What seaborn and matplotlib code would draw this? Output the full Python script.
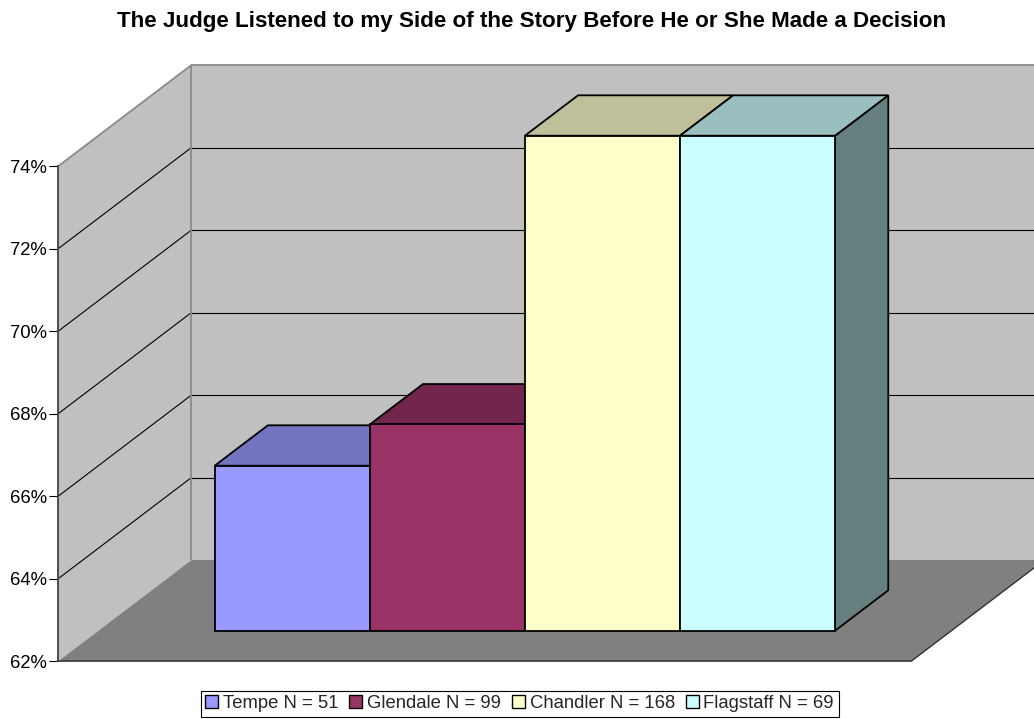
import numpy as np
import pandas as pd
import matplotlib
matplotlib.use("Agg")
import matplotlib.pyplot as plt
from matplotlib.patches import Polygon, Patch
import matplotlib.colors as mcolors
import seaborn as sns

# ---------------- data ----------------
title = "The Judge Listened to my Side of the Story Before He or She Made a Decision"
cities = ["Tempe", "Glendale", "Chandler", "Flagstaff"]
sample_sizes = [51, 99, 168, 69]
values = [66.0, 67.0, 74.0, 74.0]          # percent
colors = ["#9999FF", "#993366", "#FFFFCC", "#CCFFFF"]
y_ticks = [62, 64, 66, 68, 70, 72, 74]

BASE = y_ticks[0]
TOP = y_ticks[-1]

# ---------------- style ----------------
sns.set_theme(style="white")
plt.rcParams["font.family"] = ["Liberation Sans", "DejaVu Sans"]

fig = plt.figure(figsize=(10.34, 7.19), dpi=100)
ax = fig.add_axes([0, 0, 1, 1])

# oblique 3-D geometry (Excel style)
GAP = 0.75                 # half of the 150 % gap width, in bar widths
DX, DY = 0.8576, 2.4485    # full depth offset (x in bar widths, y in % points)
D_FRONT, D_BACK = 0.3, 0.7 # bars occupy the middle of the depth

def P(u, v, d):
    """front-plane position u (bar widths), value v (%), depth d (0..1) -> data coords"""
    return (u - GAP - 0.5 + (d - D_FRONT) * DX, v - BASE + (d - D_FRONT) * DY)

n = len(cities)
U_END = n + 2 * GAP

def shade(c, f):
    r, g, b = mcolors.to_rgb(c)
    return (r * f, g * f, b * f)

wall_c, floor_c, gray_edge = "#C0C0C0", "#808080", "#8A8A8A"

# walls and floor
ax.add_patch(Polygon([P(0, BASE, 1), P(U_END, BASE, 1), P(U_END, TOP, 1), P(0, TOP, 1)],
                     closed=True, fc=wall_c, ec="none", zorder=1))
ax.add_patch(Polygon([P(0, BASE, 0), P(0, BASE, 1), P(0, TOP, 1), P(0, TOP, 0)],
                     closed=True, fc=wall_c, ec="none", zorder=1))
ax.add_patch(Polygon([P(0, BASE, 0), P(U_END, BASE, 0), P(U_END, BASE, 1), P(0, BASE, 1)],
                     closed=True, fc=floor_c, ec="none", zorder=1))

def seg(a, b, **kw):
    ax.plot([a[0], b[0]], [a[1], b[1]], solid_capstyle="butt", **kw)

seg(P(0, BASE, 1), P(0, TOP, 1), color=gray_edge, lw=1.3, zorder=1.6)
seg(P(0, TOP, 1), P(U_END, TOP, 1), color=gray_edge, lw=1.3, zorder=1.6)
seg(P(0, TOP, 0), P(0, TOP, 1), color=gray_edge, lw=1.3, zorder=1.6)
seg(P(U_END, BASE, 0), P(U_END, BASE, 1), color="#303030", lw=1.0, zorder=1.6)

# gridlines
for v in y_ticks[1:-1]:
    seg(P(0, v, 0), P(0, v, 1), color="black", lw=0.8, zorder=1.5)
    seg(P(0, v, 1), P(U_END, v, 1), color="black", lw=0.8, zorder=1.5)

# ---------------- bars ----------------
labels = [f"{c} N = {s}" for c, s in zip(cities, sample_sizes)]
df = pd.DataFrame({"label": labels, "rel": np.array(values) - BASE})
sns.barplot(data=df, x="label", y="rel", hue="label", palette=colors, saturation=1,
            width=1.0, dodge=False, legend=False, edgecolor="black", linewidth=1.3, ax=ax)

dep = D_BACK - D_FRONT
for i, cont in enumerate(ax.containers):
    p = cont[0]
    p.set_zorder(10 + 3 * i + 2)
    x0, w, h = p.get_x(), p.get_width(), p.get_height()
    c = colors[i]
    top = [(x0, h), (x0 + w, h), (x0 + w + dep * DX, h + dep * DY), (x0 + dep * DX, h + dep * DY)]
    side = [(x0 + w, 0), (x0 + w, h), (x0 + w + dep * DX, h + dep * DY), (x0 + w + dep * DX, dep * DY)]
    ax.add_patch(Polygon(side, closed=True, fc=shade(c, 0.5), ec="black", lw=1.3,
                         joinstyle="miter", zorder=10 + 3 * i))
    ax.add_patch(Polygon(top, closed=True, fc=shade(c, 0.75), ec="black", lw=1.3,
                         joinstyle="miter", zorder=10 + 3 * i + 1))

# ---------------- axes ----------------
ax.set_xlim(-1.8843, 4.7827)
ax.set_ylim(-2.1406, 15.290)
ax.set_xlabel("")
ax.set_ylabel("")
ax.set_xticks([])
for s in ["top", "right"]:
    ax.spines[s].set_visible(False)
xl, yl0 = P(0, BASE, 0)
_, yl1 = P(0, TOP, 0)
xr, _ = P(U_END, BASE, 0)
ax.spines["left"].set_position(("data", xl))
ax.spines["left"].set_bounds(yl0, yl1)
ax.spines["bottom"].set_position(("data", yl0))
ax.spines["bottom"].set_bounds(xl, xr)
for s in ["left", "bottom"]:
    ax.spines[s].set_color("#404040")
    ax.spines[s].set_linewidth(1.3)
    ax.spines[s].set_zorder(2)
ax.set_yticks([P(0, v, 0)[1] for v in y_ticks])
ax.set_yticklabels([f"{v}%" for v in y_ticks])
ax.tick_params(axis="y", left=True, direction="out", length=6.8, width=0.8,
               color="black", pad=1.5, labelsize=13.3, labelcolor="black")
ax.set_facecolor("white")

# ---------------- title & legend ----------------
fig.text(532 / 1034, 1 - 26.5 / 719, title, ha="center", va="baseline",
         fontsize=16.1, fontweight="bold", color="black")

handles = [Patch(facecolor=c, edgecolor="black", linewidth=1.0) for c in colors]
leg = fig.legend(handles=handles, labels=labels, ncol=4, loc="upper left",
                 bbox_to_anchor=(200.7 / 1034, 1 - 690.7 / 719), frameon=True,
                 fancybox=False, edgecolor="black", framealpha=1, fontsize=13.3,
                 handlelength=0.7, handleheight=0.7, handletextpad=0.25,
                 columnspacing=0.6, borderpad=0.25, borderaxespad=0)
leg.get_frame().set_linewidth(0.8)

fig.savefig("out.png", dpi=100)
